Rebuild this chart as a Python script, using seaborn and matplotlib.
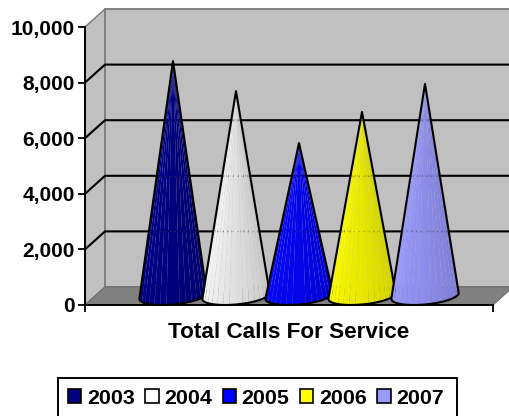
"""
Total calls for service, drawn as a 3D-looking cone chart
"""

import numpy as np
import pandas as pd
import matplotlib
matplotlib.use('Agg')
import matplotlib.pyplot as plt
import seaborn as sns
from matplotlib.patches import Patch, Polygon, Rectangle

CATEGORY = ['Total Calls For Service']
YEARS = ['2003', '2004', '2005', '2006', '2007']
CALLS = [8450, 7370, 5500, 6620, 7630]
Y_TICKS = [0, 2000, 4000, 6000, 8000, 10000]

COLORS = ['#000080', '#FFFFFF', '#0000FF', '#FFFF00', '#9999FF']
FACET_LEFT = ['#00008C', '#FAFAFA', '#0808FF', '#FFFF00', '#9C9CFF']
FACET_RIGHT = ['#00006E', '#C4C4C4', '#0000D2', '#D0D000', '#7C7CD4']

WALL = '#C0C0C0'
FLOOR = '#808080'

sns.set_style("white")
plt.rcParams['font.family'] = ['Liberation Sans', 'DejaVu Sans']
plt.rcParams['font.weight'] = 'bold'
plt.rcParams['text.color'] = 'black'

W, H = 509, 416
fig = plt.figure(figsize=(W / 100, H / 100), dpi=100)
ax = fig.add_axes([85 / W, (H - 305) / H, 408 / W, 278 / H])
ax.patch.set_alpha(0)

df = pd.DataFrame({'category': CATEGORY * len(YEARS), 'year': YEARS, 'calls': CALLS})
sns.barplot(data=df, x='category', y='calls', hue='year', palette=COLORS,
            width=0.772, legend=False, ax=ax)
ax.set_xlim(-0.5, 0.5)
ax.set_ylim(0, 10000)

# size of one pixel in data units, and the depth of the 3D box
PX = 1 / 408
PY = 10000 / 278
DX = 20 * PX
DY = 18 * PY


def shape(points, **kw):
    ax.add_patch(Polygon(points, clip_on=False, **kw))


# walls and floor
top = 10000
shape([(-0.5, 0), (-0.5 + DX, DY), (-0.5 + DX, top + DY), (-0.5, top)],
      facecolor=WALL, edgecolor=FLOOR, lw=1.1, zorder=0.5)
shape([(-0.5 + DX, DY), (0.5 + DX, DY), (0.5 + DX, top + DY), (-0.5 + DX, top + DY)],
      facecolor=WALL, edgecolor=FLOOR, lw=1.4, zorder=0.5)
shape([(-0.5, 0), (0.5, 0), (0.5 + DX, DY), (-0.5 + DX, DY)],
      facecolor=FLOOR, edgecolor='#6E6E6E', lw=0.8, zorder=0.6)

# grid lines run along the left wall and the back wall
for value in Y_TICKS[1:-1]:
    ax.plot([-0.5, -0.5 + DX, 0.5 + DX], [value, value + DY, value + DY],
            color='black', lw=1.5, clip_on=False, zorder=1)

# the bars give position and height, the cones are built on them
theta = np.linspace(np.pi, 2 * np.pi, 17)
half_h = 8.5 * PY
tilt = 3 * PY
for i, bar in enumerate(ax.patches[:len(YEARS)]):
    bar.set_visible(False)
    cx = bar.get_x() + bar.get_width() / 2 + DX / 2
    half_w = bar.get_width() * 0.535
    cy = DY / 2
    apex = (cx, bar.get_height() + cy)
    xs = cx + half_w * np.cos(theta)
    ys = cy + half_h * np.sin(theta) + tilt * np.cos(theta)
    rim = list(zip(xs, ys))

    left = np.array(matplotlib.colors.to_rgb(FACET_LEFT[i]))
    right = np.array(matplotlib.colors.to_rgb(FACET_RIGHT[i]))
    z = 3 + i
    for k in range(len(rim) - 1):
        t = k / (len(rim) - 2)
        shape([apex, rim[k], rim[k + 1]], facecolor=left + (right - left) * t,
              edgecolor='none', lw=0, zorder=z)
    outline = Polygon([apex] + rim, closed=True, facecolor='none', edgecolor='black',
                      lw=1.5, joinstyle='round', clip_on=False, zorder=z + 0.5)
    ax.add_patch(outline)

    # faint trace of the grid through the cone
    for value in Y_TICKS[1:-1]:
        line, = ax.plot([cx - half_w, cx + half_w], [value + DY, value + DY],
                        color='#555555', lw=0.9, ls=(0, (1, 3)), alpha=0.45, zorder=z + 0.2)
        line.set_clip_path(outline)

ax.set_yticks(Y_TICKS)
ax.set_yticklabels([f'{v:,}' for v in Y_TICKS], fontsize=15, fontweight='bold', color='black')
ax.set_xticks([-0.5, 0.5])
ax.set_xticklabels(['', ''])
ax.tick_params(axis='both', length=5, width=1.3, color='black', pad=2.5, left=True, bottom=True)
ax.set_xlabel(CATEGORY[0], fontsize=16.2, fontweight='bold', color='black', labelpad=5)
ax.set_ylabel('')

sns.despine(ax=ax)
for side in ['left', 'bottom']:
    ax.spines[side].set_color('black')
    ax.spines[side].set_linewidth(1.4)
    ax.spines[side].set_zorder(2.5)

# legend box runs off the bottom of the picture
fig.add_artist(Rectangle((58 / W, -10 / H), 399 / W, (H - 378 + 10) / H, transform=fig.transFigure,
                         facecolor='white', edgecolor='black', lw=1.4))
handles = [Patch(facecolor=c, edgecolor='black', lw=1.2, label=y) for c, y in zip(COLORS, YEARS)]
leg = fig.legend(handles=handles, ncol=5, loc='center', bbox_to_anchor=(256 / W, (H - 398) / H),
                 frameon=False, prop={'size': 15.4, 'weight': 'bold'},
                 handlelength=0.62, handleheight=0.62, handletextpad=0.25,
                 columnspacing=0.51, borderpad=0, borderaxespad=0)

plt.savefig('out.png', dpi=100)
